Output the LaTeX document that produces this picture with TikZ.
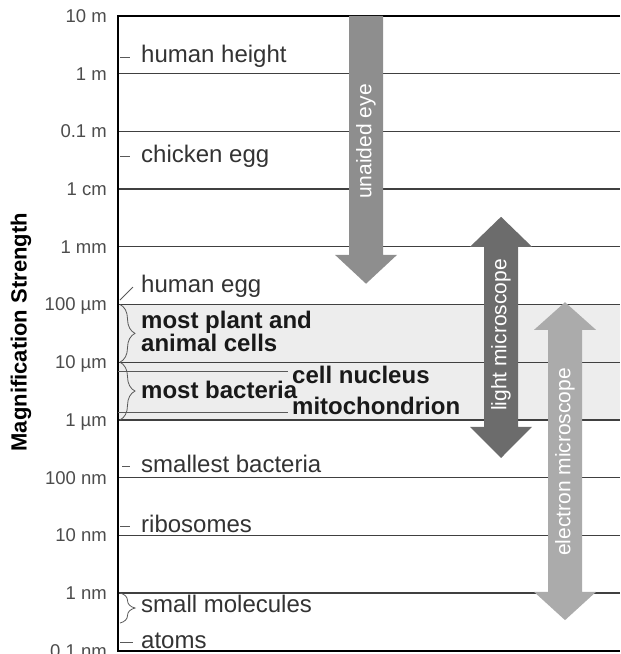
\documentclass[tikz,border=0pt]{standalone}
\usepackage{fontspec}
\setmainfont{Liberation Sans}
\usetikzlibrary{decorations.pathreplacing}

\definecolor{bandgrey}{HTML}{EDEDED}
\definecolor{eyegrey}{HTML}{8E8E8E}
\definecolor{lmgrey}{HTML}{6C6C6C}
\definecolor{emgrey}{HTML}{ABABAB}

\newcommand*{\xmin}{118}
\newcommand*{\xmax}{620}
\newcommand*{\ymin}{-10}
\newcommand*{\ymax}{1}

\begin{document}
\begin{tikzpicture}
[
	x=1pt, y=57.7pt,
	gridline/.style={draw=black!75, line width=1.3pt},
	frameline/.style={draw=black, line width=2pt},
	scalelab/.style={anchor=east, inner sep=0pt, text=black!70, text height=13pt, text depth=0pt, font=\fontsize{18.5}{18.5}\selectfont},
	sizelab/.style={anchor=west, inner sep=0pt, text=black!80, text height=17pt, text depth=5pt, font=\fontsize{24}{23}\selectfont},
	boldlab/.style={sizelab, text=black!90, font=\fontsize{24}{23}\selectfont\bfseries},
	labtick/.style={draw=black!65, line width=0.8pt},
	bracket/.style={draw=black!65, line width=0.8pt, decorate, decoration={brace, amplitude=15pt}},
	arrowtext/.style={rotate=90, text=white, inner sep=0pt, font=\fontsize{21}{21}\selectfont}
]

	\useasboundingbox (0,-10.057) rectangle (620,1.277);

	% band of cells
	\fill[bandgrey] (\xmin,-4) rectangle (\xmax,-6);

	% grid
	\foreach \y in {0,...,-9}
		\draw[gridline] (\xmin,\y) -- (\xmax,\y);
	\draw[frameline] (\xmax,\ymax) -- (\xmin,\ymax) -- (\xmin,\ymin) -- (\xmax,\ymin);

	% scale
	\foreach \y/\lab in {1/10 m, 0/1 m, -1/0.1 m, -2/1 cm, -3/1 mm, -4/100 µm, -5/10 µm, -6/1 µm, -7/100 nm, -8/10 nm, -9/1 nm, -10/0.1 nm}
		\node[scalelab] (s\y) at (107,\y) {\lab};
	\node[rotate=90, inner sep=0pt, font=\fontsize{22}{22}\selectfont\bfseries] (ytitle) at (21,-4.48) {Magnification Strength};

	% arrows
	\fill[eyegrey] (349,\ymax) -- (383,\ymax) -- (383,-3.14) -- (397,-3.14) -- (366,-3.64) -- (335,-3.14) -- (349,-3.14) -- cycle;
	\fill[lmgrey] (501,-2.48) -- (532,-3.0) -- (518,-3.0) -- (518,-6.12) -- (532,-6.12) -- (501,-6.66) -- (470,-6.12) -- (484,-6.12) -- (484,-3.0) -- (470,-3.0) -- cycle;
	\fill[emgrey] (565,-3.96) -- (596,-4.44) -- (582,-4.44) -- (582,-8.98) -- (596,-8.98) -- (565,-9.47) -- (534,-8.98) -- (548,-8.98) -- (548,-4.44) -- (534,-4.44) -- cycle;
	\node[arrowtext] (eye) at (366,-1.175) {unaided eye};
	\node[arrowtext] (lm) at (501,-4.53) {light microscope};
	\node[arrowtext] (em) at (565,-6.73) {electron microscope};

	% sizes
	\node[sizelab] (hh) at (141,0.29) {human height};
	\node[sizelab] (ce) at (141,-1.44) {chicken egg};
	\node[sizelab] (he) at (141,-3.68) {human egg};
	\node[anchor=west, inner sep=0pt, align=left, text=black!90, font=\fontsize{24}{23}\selectfont\bfseries] (cells) at (141,-4.475) {most plant and\\animal cells};
	\node[boldlab] (bact) at (141,-5.52) {most bacteria};
	\node[boldlab] (cn) at (292,-5.26) {cell nucleus};
	\node[boldlab] (mito) at (292,-5.81) {mitochondrion};
	\node[sizelab] (sb) at (141,-6.80) {smallest bacteria};
	\node[sizelab] (ribo) at (141,-7.84) {ribosomes};
	\node[sizelab] (mol) at (141,-9.24) {small molecules};
	\node[sizelab] (atoms) at (141,-9.85) {atoms};

	\draw[labtick] ([xshift=-21pt]hh.west) -- ([xshift=-11pt]hh.west);
	\draw[labtick] ([xshift=-21pt]ce.west) -- ([xshift=-11pt]ce.west);
	\draw[labtick] ([xshift=-21pt,yshift=-14pt]he.west) -- ([xshift=-8pt,yshift=-1pt]he.west);
	\draw[labtick] ([xshift=-174pt,yshift=6pt]cn.west) -- ([xshift=-4pt,yshift=6pt]cn.west);
	\draw[labtick] ([xshift=-174pt,yshift=-3pt]mito.west) -- ([xshift=-4pt,yshift=-3pt]mito.west);
	\draw[labtick] ([xshift=-19pt]sb.west) -- ([xshift=-11pt]sb.west);
	\draw[labtick] ([xshift=-21pt]ribo.west) -- ([xshift=-11pt]ribo.west);
	\draw[labtick] ([xshift=-21pt]atoms.west) -- ([xshift=-8pt]atoms.west);

	\draw[bracket] (120,-4) -- (120,-5);
	\draw[bracket] (120,-5) -- (120,-6);
	\draw[bracket] (120,-9) -- (120,-9.52);

\end{tikzpicture}
\end{document}
